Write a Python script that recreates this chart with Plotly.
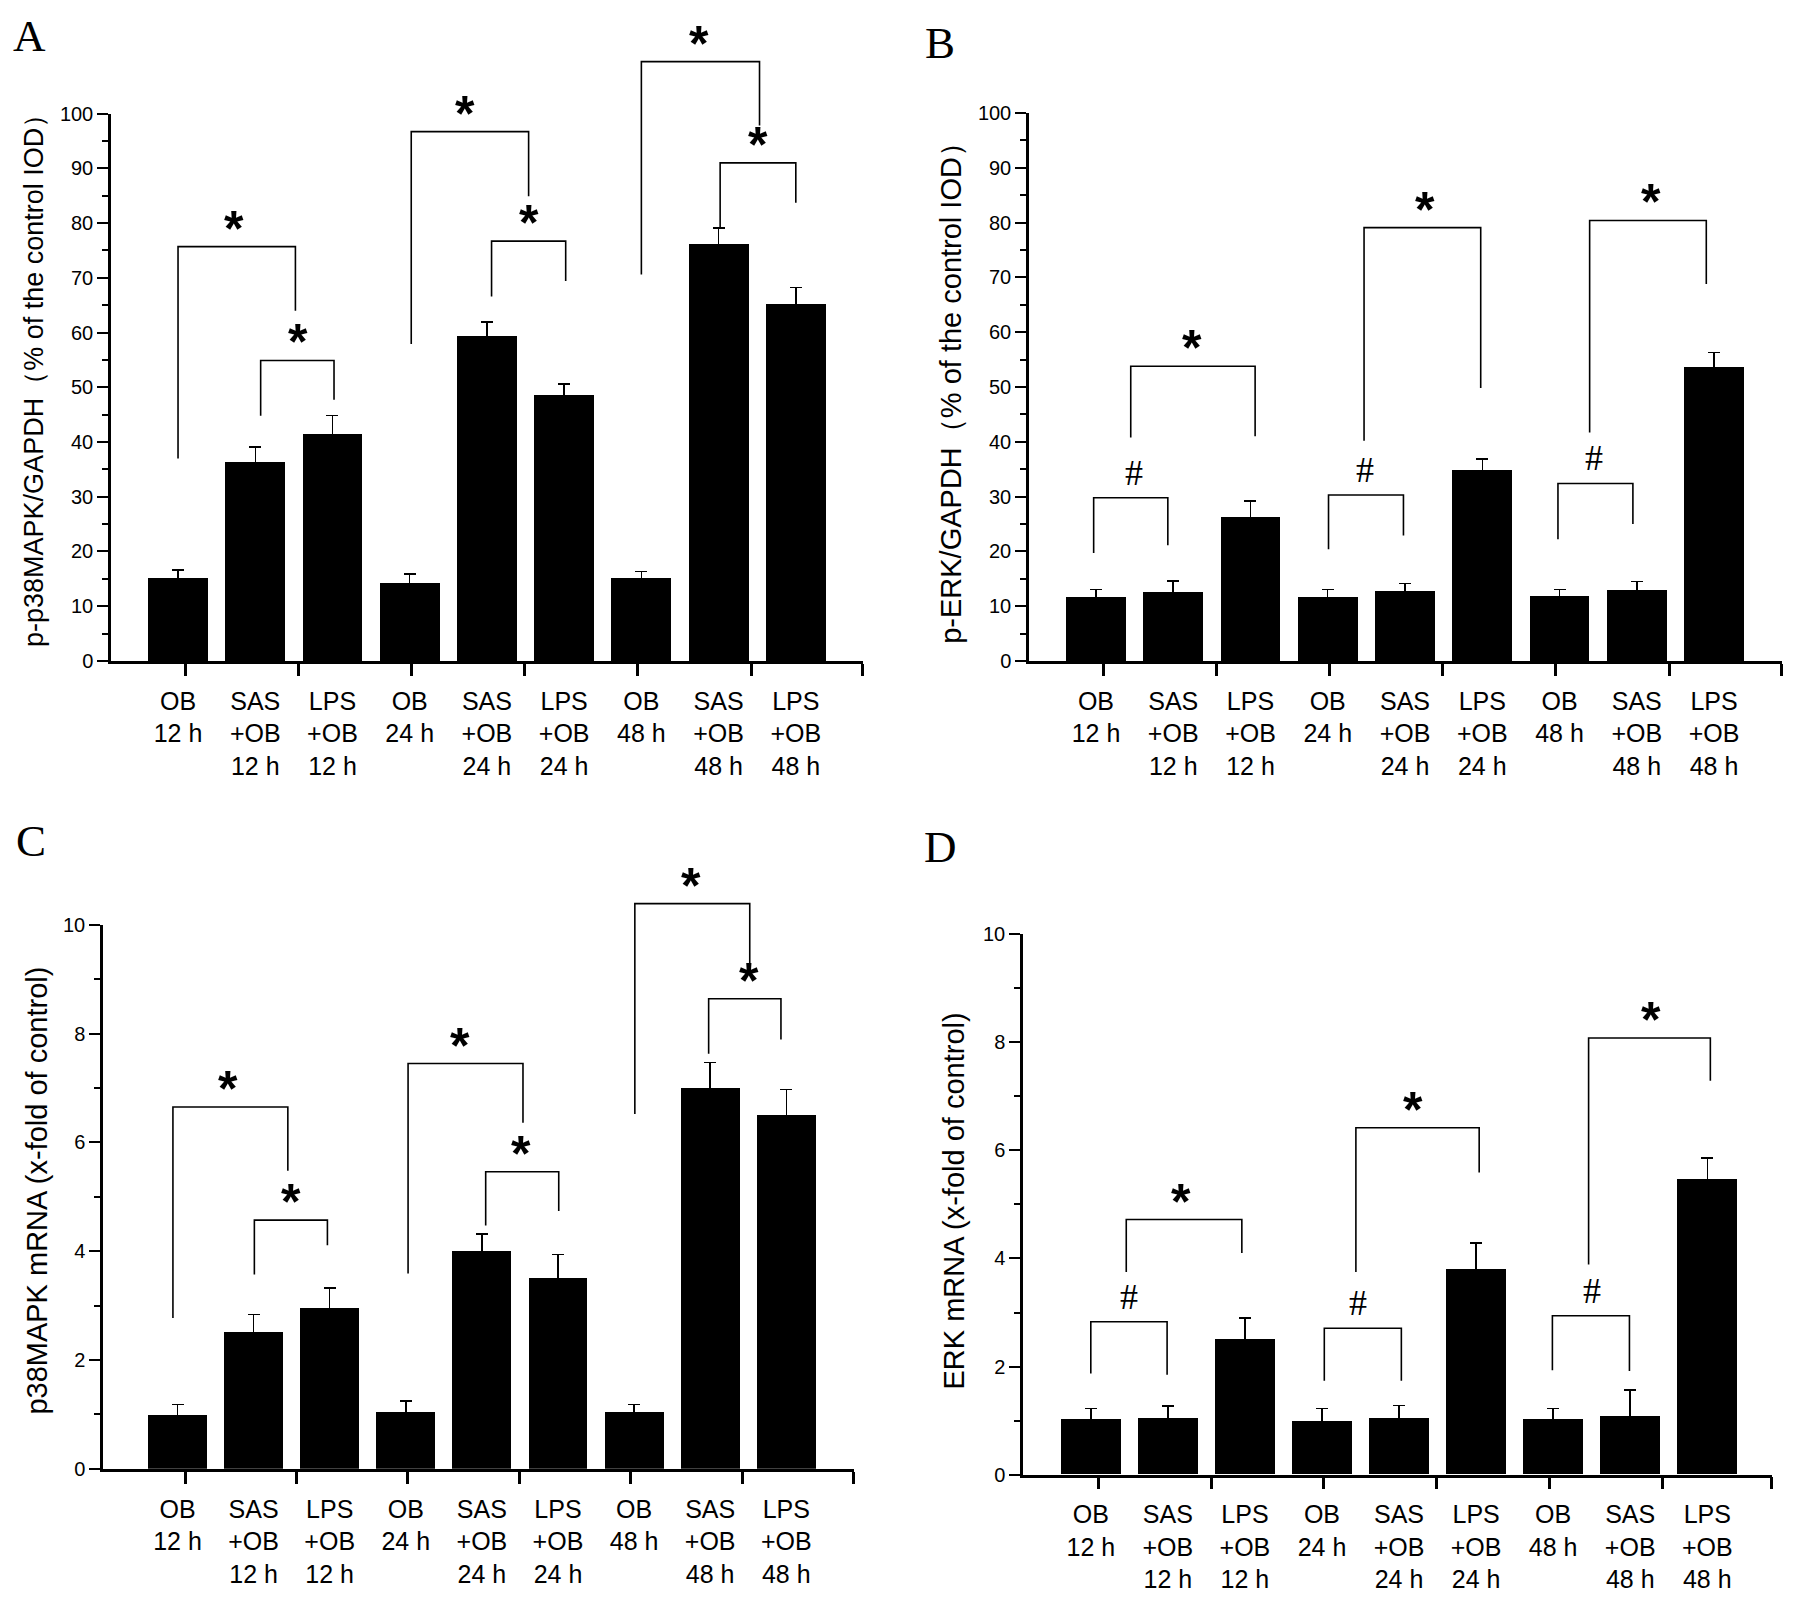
import plotly.graph_objects as go

W, H = 1795, 1606

bar_pos = [1, 2, 3, 4, 5, 6, 7, 8, 9]
bar_labels = ["OB<br>12 h", "SAS<br>+OB<br>12 h", "LPS<br>+OB<br>12 h",
              "OB<br>24 h", "SAS<br>+OB<br>24 h", "LPS<br>+OB<br>24 h",
              "OB<br>48 h", "SAS<br>+OB<br>48 h", "LPS<br>+OB<br>48 h"]
# tick marks on the category axis sit between the bars
axis_tick_pos = [1.1, 2.56, 4.02, 5.49, 6.95, 8.42]

# A: p-p38MAPK/GAPDH
a_vals = [15.3, 36.5, 41.6, 14.4, 59.5, 48.6, 15.2, 76.3, 65.3]
a_errs = [1.3, 2.6, 3.2, 1.5, 2.4, 2.0, 1.1, 2.8, 2.9]
# (x left, y left foot, x right, y right foot, y top, x mark, mark)
a_brackets = [
    (1.00, 37.0, 2.52, 64.0, 75.7, 1.73, "*"),
    (2.07, 44.8, 3.02, 47.7, 54.9, 2.55, "*"),
    (4.02, 57.9, 5.54, 84.9, 96.7, 4.72, "*"),
    (5.06, 66.6, 6.02, 69.4, 76.7, 5.55, "*"),
    (7.00, 70.6, 8.53, 97.8, 109.5, 7.75, "*"),
    (8.02, 79.1, 9.00, 83.7, 91.0, 8.51, "*"),
]

# B: p-ERK/GAPDH
b_vals = [11.65, 12.5, 26.3, 11.65, 12.7, 34.9, 11.9, 13.0, 53.6]
b_errs = [1.4, 2.1, 2.9, 1.4, 1.4, 2.0, 1.1, 1.5, 2.7]
b_brackets = [
    (0.97, 19.7, 1.93, 21.1, 29.8, 1.49, "#"),
    (1.45, 40.8, 3.06, 41.0, 53.8, 2.24, "*"),
    (4.01, 20.4, 4.98, 22.9, 30.3, 4.48, "#"),
    (4.47, 40.2, 5.98, 49.8, 79.1, 5.26, "*"),
    (6.98, 22.2, 7.95, 25.0, 32.4, 7.44, "#"),
    (7.39, 41.7, 8.90, 68.8, 80.4, 8.19, "*"),
]

# C: p38MAPK mRNA
c_vals = [0.99, 2.52, 2.95, 1.04, 4.01, 3.51, 1.04, 7.0, 6.51]
c_errs = [0.19, 0.32, 0.37, 0.21, 0.31, 0.43, 0.14, 0.47, 0.46]
c_brackets = [
    (0.94, 2.77, 2.45, 5.48, 6.65, 1.67, "*"),
    (2.01, 3.57, 2.97, 4.11, 4.57, 2.49, "*"),
    (4.03, 3.59, 5.54, 6.36, 7.45, 4.71, "*"),
    (5.05, 4.47, 6.01, 4.74, 5.46, 5.51, "*"),
    (7.01, 6.52, 8.52, 9.21, 10.39, 7.75, "*"),
    (7.98, 7.63, 8.93, 7.89, 8.64, 8.51, "*"),
]

# D: ERK mRNA
d_vals = [1.02, 1.05, 2.50, 0.99, 1.04, 3.81, 1.02, 1.08, 5.46]
d_errs = [0.20, 0.22, 0.40, 0.23, 0.24, 0.48, 0.20, 0.49, 0.40]
d_brackets = [
    (1.00, 1.87, 1.99, 1.85, 2.83, 1.50, "#"),
    (1.46, 3.75, 2.96, 4.10, 4.72, 2.17, "*"),
    (4.03, 1.74, 5.03, 1.74, 2.71, 4.47, "#"),
    (4.44, 3.75, 6.04, 5.59, 6.42, 5.18, "*"),
    (6.99, 1.93, 7.99, 1.92, 2.94, 7.51, "#"),
    (7.46, 3.89, 9.04, 7.29, 8.08, 8.27, "*"),
]

SANS = "Arial, Liberation Sans, sans-serif"
SERIF = "Times New Roman, Liberation Serif, serif"

# px/py: plot-area corners in page pixels; tpos: centre of the y title; lpos: panel letter
panels = [
    dict(letter="A", vals=a_vals, errs=a_errs, brackets=a_brackets,
         title="p-p38MAPK/GAPDH（% of the control IOD）", tsize=27, ymax=100, dtick=10,
         px=(111, 863), py=(104, 659), xr=(0.132, 9.87), tpos=(34, 368), lpos=(29, 25)),
    dict(letter="B", vals=b_vals, errs=b_errs, brackets=b_brackets,
         title="p-ERK/GAPDH（% of the control IOD）", tsize=29, ymax=100, dtick=10,
         px=(1029, 1782), py=(103.5, 659), xr=(0.133, 9.88), tpos=(951, 380), lpos=(940, 32)),
    dict(letter="C", vals=c_vals, errs=c_errs, brackets=c_brackets,
         title="p38MAPK mRNA (x-fold of control)", tsize=29, ymax=10, dtick=2,
         px=(103, 854), py=(926.5, 1478), xr=(0.021, 9.89), tpos=(37, 1196), lpos=(31, 842)),
    dict(letter="D", vals=d_vals, errs=d_errs, brackets=d_brackets,
         title="ERK mRNA (x-fold of control)", tsize=29, ymax=10, dtick=2,
         px=(1023, 1772), py=(936, 1484), xr=(0.12, 9.84), tpos=(954, 1206), lpos=(940, 848)),
]


def ref(kind, n):
    return kind if n == 1 else f"{kind}{n}"


def axkey(kind, n):
    return f"{kind}axis" if n == 1 else f"{kind}axis{n}"


def fx(px):
    return px / W


def fy(py):
    return 1 - py / H


fig = go.Figure()
layout = {}
annotations = []

for i, p in enumerate(panels):
    n, m = i + 1, i + 5
    xdom = [fx(p["px"][0]), fx(p["px"][1])]
    ydom = [fy(p["py"][1]), fy(p["py"][0])]
    # brackets live on a taller invisible subplot so they can rise above the y range
    ytop = min(ydom[1] + 0.06, 1.0)
    bracket_ymax = p["ymax"] * (ytop - ydom[0]) / (ydom[1] - ydom[0])

    fig.add_trace(go.Bar(
        x=bar_pos, y=p["vals"], width=0.775,
        marker=dict(color="black", line=dict(width=0)),
        error_y=dict(type="data", array=p["errs"], color="black", thickness=1.5, width=6),
        xaxis=ref("x", n), yaxis=ref("y", n), showlegend=False))

    for xl, yl, xr, yr, yt, xm, mark in p["brackets"]:
        fig.add_trace(go.Scatter(
            x=[xl, xl, xr, xr], y=[yl, yt, yt, yr], mode="lines",
            line=dict(color="black", width=1.6),
            xaxis=ref("x", m), yaxis=ref("y", m), showlegend=False, hoverinfo="skip"))
        if mark == "*":
            font = dict(family=SANS, size=50, color="black", weight="bold")
            shift = -12
        else:
            font = dict(family=SERIF, size=36, color="black")
            shift = 3
        annotations.append(dict(x=xm, y=yt, xref=ref("x", m), yref=ref("y", m), text=mark,
                                showarrow=False, yanchor="bottom", yshift=shift, font=font))

    end_tick = p["xr"][1] - 0.002
    layout[axkey("x", n)] = dict(
        domain=xdom, range=list(p["xr"]), anchor=ref("y", n),
        tickmode="array", tickvals=bar_pos, ticktext=bar_labels, ticks="",
        ticklabelstandoff=16, tickfont=dict(family=SANS, size=25, color="black"),
        showline=True, linewidth=2.5, linecolor="black", showgrid=False, zeroline=False,
        minor=dict(tickmode="array", tickvals=axis_tick_pos + [end_tick], ticks="outside",
                   ticklen=12, tickwidth=2.5, tickcolor="black"))
    layout[axkey("y", n)] = dict(
        domain=ydom, range=[0, p["ymax"]], anchor=ref("x", n),
        tickmode="linear", tick0=0, dtick=p["dtick"], ticks="outside", ticklen=11, tickwidth=2,
        tickcolor="black", tickfont=dict(family=SANS, size=20, color="black"),
        showline=True, linewidth=2.5, linecolor="black", showgrid=False, zeroline=False,
        minor=dict(ticks="outside", dtick=p["dtick"] / 2, ticklen=6, tickwidth=2, tickcolor="black"))
    layout[axkey("x", m)] = dict(domain=xdom, range=list(p["xr"]), anchor=ref("y", m), visible=False)
    layout[axkey("y", m)] = dict(domain=[ydom[0], ytop], range=[0, bracket_ymax],
                                 anchor=ref("x", m), visible=False)

    annotations.append(dict(x=fx(p["tpos"][0]), y=fy(p["tpos"][1]), xref="paper", yref="paper",
                            text=p["title"], textangle=-90, showarrow=False,
                            xanchor="center", yanchor="middle",
                            font=dict(family=SANS, size=p["tsize"], color="black")))
    annotations.append(dict(x=fx(p["lpos"][0]), y=fy(p["lpos"][1]), xref="paper", yref="paper",
                            text=p["letter"], showarrow=False, xanchor="center", yanchor="middle",
                            font=dict(family=SERIF, size=45, color="black")))

fig.update_layout(
    width=W, height=H, margin=dict(l=0, r=0, t=0, b=0),
    paper_bgcolor="white", plot_bgcolor="rgba(0,0,0,0)",
    annotations=annotations, bargap=0, **layout)

# pin the figure to the page corner so page pixels match figure pixels
fig.write_html("out.html", config={"displayModeBar": False},
               post_script="document.body.style.margin = '0px';")
